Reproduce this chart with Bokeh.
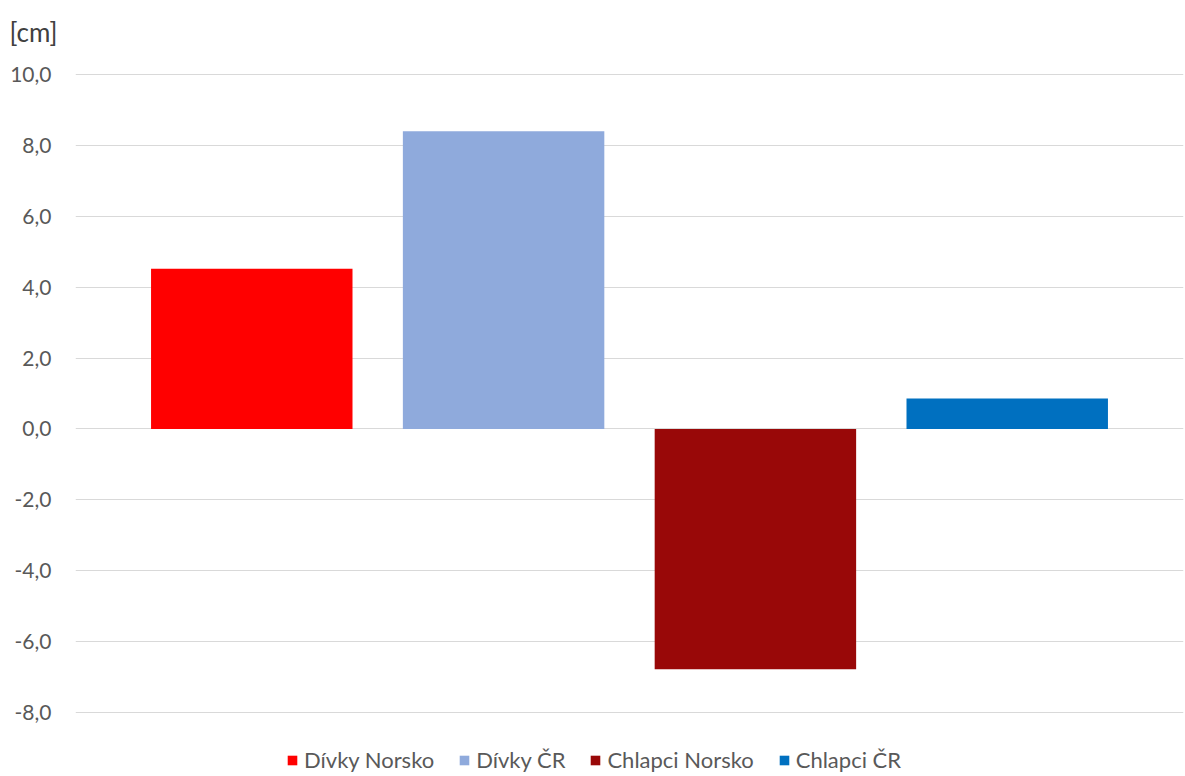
from bokeh.plotting import figure
from bokeh.models import ColumnDataSource, Legend, LegendItem, Range1d, FixedTicker, Title
from bokeh.embed import file_html
from bokeh.resources import INLINE

# Series (one category, four bars)
series = ["Dívky Norsko", "Dívky ČR", "Chlapci Norsko", "Chlapci ČR"]
values = [4.52, 8.40, -6.78, 0.86]
colors = ["#FF0000", "#8FAADC", "#990808", "#0070C0"]
y_ticks = [-8, -6, -4, -2, 0, 2, 4, 6, 8, 10]

FONT = "Lato"

# plot frame spans down to the canvas bottom so the legend fits inside it;
# gridlines are only drawn at the fixed ticks (-8 ... 10)
p = figure(width=1185, height=776, output_backend="svg", toolbar_location=None,
           x_range=Range1d(-0.7, 3.7), y_range=Range1d(-9.806, 10.395),
           min_border_left=75, min_border_right=2, min_border_top=60, min_border_bottom=0)
p.outline_line_color = None
p.background_fill_color = "white"
p.border_fill_color = "white"

renderers = []
for i, (name, v, c) in enumerate(zip(series, values, colors)):
    src = ColumnDataSource(dict(x=[i], top=[max(v, 0)], bottom=[min(v, 0)]))
    r = p.vbar(x="x", top="top", bottom="bottom", width=0.8, source=src,
               fill_color=c, line_color=None)
    renderers.append((name, r))

p.xaxis.visible = False
p.xgrid.visible = False
p.ygrid.grid_line_color = "#D9D9D9"
p.ygrid.grid_line_width = 1

ax = p.yaxis[0]
ax.ticker = FixedTicker(ticks=y_ticks)
ax.major_label_overrides = {t: f"{t:.1f}".replace(".", ",") for t in y_ticks}
ax.axis_line_color = None
ax.major_tick_line_color = None
ax.minor_tick_line_color = None
ax.major_label_standoff = 18
ax.major_label_text_font = FONT
ax.major_label_text_font_size = "21px"
ax.major_label_text_color = "#595959"

title = Title(text="[cm]", align="left", offset=-66, text_font=FONT,
              text_font_size="26px", text_color="#404040", text_font_style="normal",
              standoff=26)
p.add_layout(title, "above")

legend = Legend(items=[LegendItem(label=n, renderers=[r]) for n, r in renderers],
                orientation="horizontal", location=(211, 3),
                label_text_font=FONT, label_text_font_size="22px", label_text_color="#595959",
                glyph_width=12, glyph_height=12, spacing=24, label_standoff=6,
                border_line_color=None, background_fill_alpha=0, padding=0, margin=0)
p.add_layout(legend, "center")

open("out.html", "w").write(file_html(p, INLINE))
